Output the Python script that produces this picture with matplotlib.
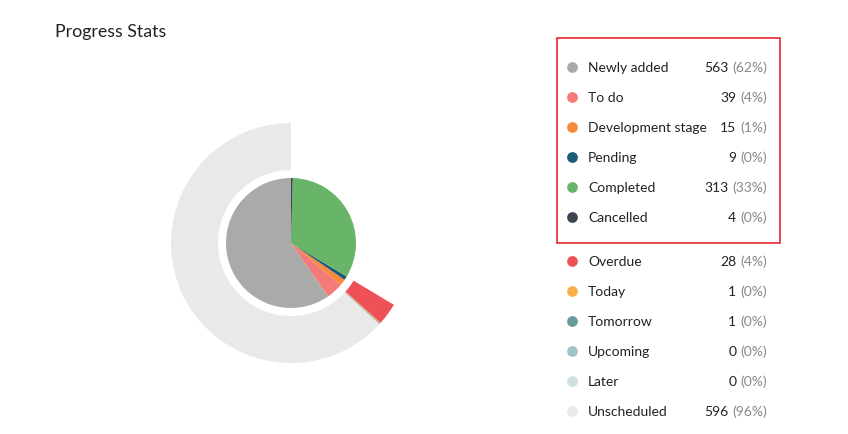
import matplotlib.pyplot as plt
from matplotlib.patches import Rectangle

plt.rcParams['font.family'] = ['Lato', 'DejaVu Sans']

# progress (inner pie)
prog_labels = ['Newly added', 'To do', 'Development stage', 'Pending', 'Completed', 'Cancelled']
prog_values = [563, 39, 15, 9, 313, 4]
prog_pcts = ['(62%)', '(4%)', '(1%)', '(0%)', '(33%)', '(0%)']
prog_colors = ['#aaaba9', '#f47a7a', '#f78b3b', '#1c5a79', '#68b468', '#3c4550']

# schedule (outer ring)
sched_labels = ['Overdue', 'Today', 'Tomorrow', 'Upcoming', 'Later', 'Unscheduled']
sched_values = [28, 1, 1, 0, 0, 596]
sched_pcts = ['(4%)', '(0%)', '(0%)', '(0%)', '(0%)', '(96%)']
sched_colors = ['#ee5157', '#f8b14a', '#6a9b9b', '#a0c3c3', '#cfe0e0', '#e9e9e9']

W, H = 848, 434
fig = plt.figure(figsize=(W / 100, H / 100), dpi=100)

# pie axes, centre at (291, 243) px
cx, cy, half = 291, 243, 130
ax = fig.add_axes([(cx - half) / W, (H - cy - half) / H, 2 * half / W, 2 * half / H])
ax.pie(prog_values, colors=prog_colors, startangle=90, counterclock=True,
       radius=65, wedgeprops=dict(linewidth=0))
total = sum(prog_values)
ring_vals = sched_values[::-1] + [total - sum(sched_values)]
ring_cols = sched_colors[::-1] + ['none']
ax.pie(ring_vals, colors=ring_cols, startangle=90, counterclock=True,
       radius=120, wedgeprops=dict(width=47, linewidth=0))
ax.set_xlim(-half, half)
ax.set_ylim(-half, half)
ax.set_aspect('equal')
ax.axis('off')

# overlay in pixel coords for text
ov = fig.add_axes([0, 0, 1, 1])
ov.set_xlim(0, W)
ov.set_ylim(H, 0)
ov.axis('off')

ov.text(55, 32.5, 'Progress Stats', fontsize=12.8, color='#222222', va='center', ha='left')

def legend_block(labels, values, pcts, colors, y0):
    for i in range(len(labels)):
        y = y0 + i * 30
        ov.scatter([572], [y], s=60, color=colors[i], linewidths=0)
        ov.text(588, y + 1, labels[i], fontsize=10, color='#222222', va='center', ha='left')
        t = ov.text(767, y + 1, pcts[i], fontsize=10, color='#888888', va='center', ha='right')
        ov.annotate(str(values[i]), xy=(0, 0.5), xycoords=t, xytext=(-4, 0),
                    textcoords='offset pixels', fontsize=10, color='#222222',
                    va='center', ha='right')

legend_block(prog_labels, prog_values, prog_pcts, prog_colors, 67)
legend_block(sched_labels, sched_values, sched_pcts, sched_colors, 261)

ov.add_patch(Rectangle((557, 38), 223, 205, fill=False, edgecolor='#e8262b', linewidth=1.2))

fig.savefig('out.png', dpi=100)
